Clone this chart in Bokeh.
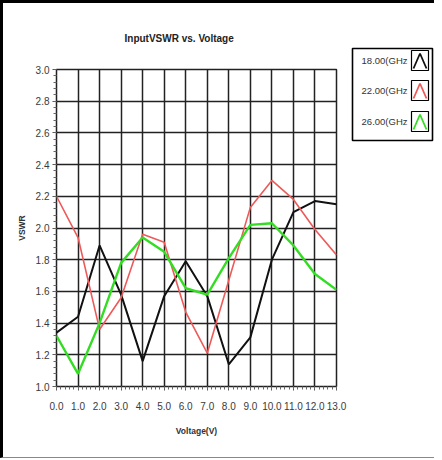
from bokeh.plotting import figure
from bokeh.layouts import row, column
from bokeh.models import Range1d, FixedTicker, Title
from bokeh.core.properties import value
from bokeh.embed import file_html
from bokeh.resources import INLINE

voltage = [0.0, 1.0, 2.0, 3.0, 4.0, 5.0, 6.0, 7.0, 8.0, 9.0, 10.0, 11.0, 12.0, 13.0]
vswr_18 = [1.34, 1.44, 1.89, 1.58, 1.16, 1.57, 1.79, 1.57, 1.14, 1.31, 1.80, 2.10, 2.17, 2.15]
vswr_22 = [2.20, 1.94, 1.36, 1.56, 1.96, 1.91, 1.47, 1.21, 1.67, 2.13, 2.30, 2.18, 1.99, 1.83]
vswr_26 = [1.32, 1.08, 1.40, 1.78, 1.94, 1.85, 1.62, 1.58, 1.81, 2.02, 2.03, 1.89, 1.71, 1.61]
series_names = ["18.00(GHz", "22.00(GHz", "26.00(GHz"]
series_colors = ["#111111", "#ee5a5a", "#33dd22"]
x_ticks = [float(v) for v in range(0, 14)]
y_ticks = [1.0, 1.2, 1.4, 1.6, 1.8, 2.0, 2.2, 2.4, 2.6, 2.8, 3.0]

FONT = "Liberation Sans"
H = 454

p = figure(width=345, height=H, output_backend="svg", toolbar_location=None,
           x_range=Range1d(0, 13), y_range=Range1d(1.0, 3.0),
           min_border_left=53, min_border_right=12, min_border_top=66, min_border_bottom=71,
           align="start")

p.title = Title(text="InputVSWR vs. Voltage", align="left", offset=68, standoff=52,
                text_font=FONT, text_font_size="10px", text_font_style="bold",
                text_color="#222222")

for ys, c, w in zip([vswr_18, vswr_22, vswr_26], series_colors, [2, 1.6, 2.4]):
    p.line(voltage, ys, line_color=c, line_width=w)

p.xaxis.ticker = FixedTicker(ticks=x_ticks, minor_ticks=[i * 0.2 for i in range(0, 66)])
p.yaxis.ticker = FixedTicker(ticks=y_ticks, minor_ticks=[1.0 + i * 0.04 for i in range(0, 51)])
p.xaxis.major_label_overrides = {v: f"{v:.1f}" for v in x_ticks}
p.yaxis.major_label_overrides = {v: f"{v:.1f}" for v in y_ticks}

for ax in (p.xaxis[0], p.yaxis[0]):
    ax.major_label_text_font = FONT
    ax.major_label_text_font_size = "10px"
    ax.major_label_text_color = "#3a3a3a"
    ax.axis_label_text_font = FONT
    ax.axis_label_text_font_size = "8.5px"
    ax.axis_label_text_font_style = "bold"
    ax.axis_label_text_color = "#333333"
    ax.major_tick_line_color = "#555555"
    ax.minor_tick_line_color = "#666666"
    ax.major_tick_out = 4
    ax.major_tick_in = 0
    ax.minor_tick_out = 3
    ax.minor_tick_in = 0
    ax.axis_line_color = None

p.xaxis.axis_label = "Voltage(V)"
p.yaxis.axis_label = "VSWR"
p.xaxis.major_label_standoff = 11
p.xaxis.axis_label_standoff = 13
p.yaxis.major_label_standoff = 3
p.yaxis.axis_label_standoff = 6

p.xgrid.ticker = FixedTicker(ticks=x_ticks)
p.ygrid.ticker = FixedTicker(ticks=y_ticks)
p.grid.grid_line_color = "#222222"
p.grid.grid_line_alpha = 1.0
p.grid.grid_line_width = 1.5
p.outline_line_color = "#222222"
p.outline_line_width = 1.5

# legend panel as its own small figure (coordinates: pixels from its top-left)
LW, LH = 86, 160
lg = figure(frame_width=LW, frame_height=LH, output_backend="svg", toolbar_location=None,
            x_range=Range1d(0, LW), y_range=Range1d(LH, 0),
            min_border_left=0, min_border_right=0, min_border_top=0, min_border_bottom=0,
            x_axis_location=None, y_axis_location=None, align="start")
lg.title.visible = False
if "frame_align" in lg.properties():
    lg.frame_align = False
lg.grid.visible = False
lg.outline_line_color = None
lg.quad(left=[4], right=[84], top=[45], bottom=[137], fill_color="white",
        line_color="black", line_width=1.6)
row_y = [57, 87, 118]
lg.text(x=[59] * 3, y=row_y, text=series_names, text_align="right", text_baseline="middle",
        text_font=value(FONT), text_font_size="9.5px", text_color="#333333")
lg.quad(left=[63] * 3, right=[80] * 3, top=[y - 10 for y in row_y], bottom=[y + 10 for y in row_y],
        fill_alpha=0, line_color="black", line_width=1.2)
lg.multi_line(xs=[[65, 71.5, 78]] * 3, ys=[[y + 8, y - 7, y + 8] for y in row_y],
              line_color=series_colors, line_width=1.8)

layout = row(p, column(lg, align="start"),
             styles={"border-top": "3px solid black", "border-left": "3px solid black",
                     "border-bottom": "1px solid #888888"})

open("out.html", "w").write(file_html(layout, INLINE))
